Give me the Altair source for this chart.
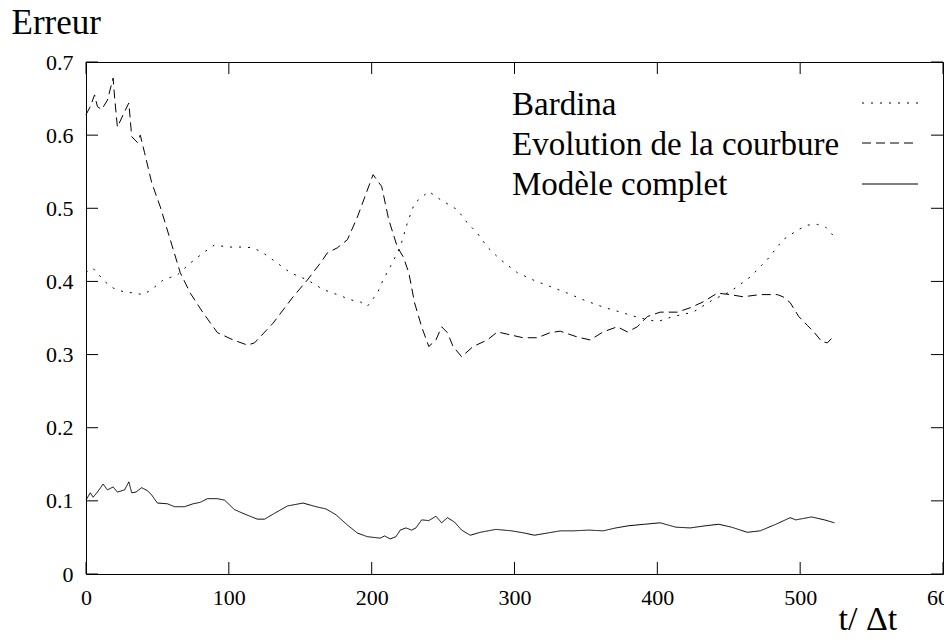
import altair as alt
import pandas as pd

# ---------------- data ----------------
series_names = ["Bardina", "Evolution de la courbure", "Modèle complet"]

bardina_t = [0, 4, 6, 13, 19, 26, 34, 40, 46, 54, 64, 73, 82, 90, 99, 110, 117, 124, 134, 143,
             155, 166, 180, 185, 192, 197, 204, 208, 213, 220, 225, 230, 240, 248, 260, 267, 274, 281, 290, 302,
             313, 325, 337, 348, 362, 376, 388, 400, 411, 425, 439, 451, 465, 477, 488, 498, 505, 512, 518, 523]
bardina_v = [0.412, 0.418, 0.416, 0.400, 0.391, 0.386, 0.384, 0.382, 0.389, 0.402,
             0.409, 0.425, 0.439, 0.450, 0.447, 0.447, 0.446, 0.439, 0.425, 0.412,
             0.402, 0.389, 0.379, 0.375, 0.372, 0.366, 0.384, 0.402, 0.420, 0.447,
             0.480, 0.507, 0.523, 0.512, 0.498, 0.480, 0.466, 0.447, 0.430, 0.412,
             0.402, 0.393, 0.384, 0.375, 0.365, 0.357, 0.350, 0.345, 0.352, 0.358,
             0.375, 0.386, 0.406, 0.430, 0.457, 0.470, 0.477, 0.478, 0.474, 0.463]

courbure_t = [0, 3, 6, 8, 11, 15, 19, 20, 22, 26, 30, 32, 36, 38, 41, 46, 52, 59, 66, 73,
              82, 92, 103, 113, 118, 131, 145, 155, 164, 169, 176, 183, 190, 197, 201, 205, 207, 212, 218, 222,
              226, 230, 235, 240, 245, 249, 253, 257, 263, 271, 281, 288, 297, 306, 316, 325, 332, 344, 353, 362,
              372, 379, 386, 393, 402, 414, 423, 432, 442, 451, 460, 472, 484, 488, 493, 499, 505, 510, 515, 519, 522]
courbure_v = [0.628, 0.639, 0.655, 0.639, 0.635, 0.648, 0.678, 0.652, 0.611, 0.628,
              0.644, 0.598, 0.590, 0.600, 0.576, 0.535, 0.502, 0.457, 0.412, 0.384,
              0.357, 0.330, 0.320, 0.313, 0.316, 0.343, 0.379, 0.402, 0.425, 0.439,
              0.446, 0.457, 0.488, 0.525, 0.546, 0.535, 0.530, 0.484, 0.447, 0.434,
              0.412, 0.371, 0.338, 0.311, 0.320, 0.338, 0.330, 0.311, 0.297, 0.311,
              0.320, 0.331, 0.327, 0.323, 0.323, 0.330, 0.332, 0.324, 0.320, 0.331,
              0.338, 0.331, 0.338, 0.352, 0.358, 0.358, 0.364, 0.372, 0.384, 0.382,
              0.379, 0.382, 0.382, 0.379, 0.371, 0.352, 0.340, 0.330, 0.318, 0.316, 0.322]

complet_t = [0, 3, 5, 8, 12, 15, 19, 22, 27, 30, 32, 35, 39, 43, 46, 50, 57, 62, 69, 75,
             80, 85, 92, 97, 104, 111, 120, 125, 132, 141, 152, 161, 168, 175, 183, 190, 197, 206, 209, 213,
             217, 220, 224, 228, 231, 235, 240, 245, 249, 253, 258, 263, 269, 276, 287, 298, 307, 314, 323, 332,
             341, 352, 362, 371, 380, 391, 402, 413, 423, 434, 443, 452, 463, 472, 483, 493, 497, 508, 517, 524]
complet_v = [0.101, 0.111, 0.105, 0.112, 0.123, 0.115, 0.119, 0.112, 0.115, 0.126,
             0.111, 0.112, 0.118, 0.114, 0.108, 0.097, 0.096, 0.092, 0.092, 0.096,
             0.098, 0.103, 0.103, 0.101, 0.088, 0.082, 0.075, 0.075, 0.083, 0.093,
             0.097, 0.092, 0.089, 0.081, 0.067, 0.056, 0.051, 0.049, 0.052, 0.048,
             0.051, 0.060, 0.063, 0.060, 0.063, 0.074, 0.073, 0.079, 0.070, 0.077,
             0.071, 0.060, 0.053, 0.057, 0.061, 0.059, 0.056, 0.053, 0.056, 0.059,
             0.059, 0.060, 0.059, 0.063, 0.066, 0.068, 0.070, 0.064, 0.063, 0.066,
             0.068, 0.064, 0.057, 0.059, 0.068, 0.077, 0.074, 0.078, 0.074, 0.070]

x_ticks = [0, 100, 200, 300, 400, 500, 600]
y_ticks = [0, 0.1, 0.2, 0.3, 0.4, 0.5, 0.6, 0.7]

x_title = "t/ Δt"
y_title = "Erreur"

# ---------------- layout/style ----------------
W, H = 857, 512
FONT = "Liberation Serif"
dashes = [[2, 7], [9, 5], [1, 0]]
TICK = 12

frames = []
for name, t, v in [(series_names[0], bardina_t, bardina_v),
                   (series_names[1], courbure_t, courbure_v),
                   (series_names[2], complet_t, complet_v)]:
    frames.append(pd.DataFrame({"t": t, "v": v, "serie": name}))
df = pd.concat(frames, ignore_index=True)

xscale = alt.Scale(domain=[0, 600], nice=False, zero=False)
yscale = alt.Scale(domain=[0, 0.7], nice=False, zero=False)

x_axis = alt.Axis(values=x_ticks, tickSize=0, ticks=False, domain=False, grid=False,
                  labelFont=FONT, labelFontSize=22, labelColor="black",
                  labelPadding=13, labelFlush=False, labelOverlap=False,
                  title=x_title, titleFont=FONT, titleFontSize=34,
                  titleFontWeight="normal", titleColor="black",
                  titleAlign="left", titleBaseline="alphabetic",
                  titleAnchor="start", titleX=752, titleY=55)
y_axis = alt.Axis(values=y_ticks, tickSize=0, ticks=False, domain=False, grid=False,
                  labelFont=FONT, labelFontSize=22, labelColor="black",
                  labelPadding=13, labelOverlap=False, labelFlush=False,
                  labelExpr="datum.value == 0 ? '0' : format(datum.value, '.1f')",
                  title=y_title, titleFont=FONT, titleFontSize=35,
                  titleFontWeight="normal", titleColor="black",
                  titleAngle=0, titleAlign="left", titleBaseline="alphabetic",
                  titleAnchor="start", titleX=-75, titleY=-29)

lines = alt.Chart(df).mark_line(color="black", strokeWidth=1).encode(
    x=alt.X("t:Q", scale=xscale, axis=x_axis),
    y=alt.Y("v:Q", scale=yscale, axis=y_axis),
    strokeDash=alt.StrokeDash("serie:N", scale=alt.Scale(domain=series_names, range=dashes),
                              legend=None),
    detail="serie:N",
)

ydf = pd.DataFrame({"v": y_ticks})
xdf = pd.DataFrame({"t": x_ticks})

left_ticks = alt.Chart(ydf).mark_rule(color="black", strokeWidth=1).encode(
    y=alt.Y("v:Q", scale=yscale, axis=y_axis), x=alt.value(0), x2=alt.value(TICK))
right_ticks = alt.Chart(ydf).mark_rule(color="black", strokeWidth=1).encode(
    y=alt.Y("v:Q", scale=yscale, axis=y_axis), x=alt.value(W - TICK), x2=alt.value(W))
bottom_ticks = alt.Chart(xdf).mark_rule(color="black", strokeWidth=1).encode(
    x=alt.X("t:Q", scale=xscale, axis=x_axis), y=alt.value(H), y2=alt.value(H - TICK))
top_ticks = alt.Chart(xdf).mark_rule(color="black", strokeWidth=1).encode(
    x=alt.X("t:Q", scale=xscale, axis=x_axis), y=alt.value(0), y2=alt.value(TICK))

# manual legend (label left, line sample right)
legend_layers = []
text_y = [53, 93, 133]
line_y = [41, 81, 122]
for i, name in enumerate(series_names):
    ldf = pd.DataFrame({"label": [name]})
    legend_layers.append(
        alt.Chart(ldf).mark_text(font=FONT, fontSize=33, align="left", baseline="alphabetic",
                                 color="black").encode(
            text="label:N", x=alt.value(426), y=alt.value(text_y[i])))
    legend_layers.append(
        alt.Chart(ldf).mark_rule(color="black", strokeWidth=1, strokeDash=dashes[i]).encode(
            x=alt.value(776), x2=alt.value(832), y=alt.value(line_y[i])))

chart = alt.layer(lines, left_ticks, right_ticks, bottom_ticks, top_ticks, *legend_layers).properties(
    width=W, height=H,
    autosize=alt.AutoSizeParams(type="none"),
    padding={"left": 78, "top": 54, "right": 1, "bottom": 61},
    background="white",
).configure_view(stroke="black", strokeWidth=1)

chart.save("out.html", embed_options={"renderer": "svg", "actions": False})
